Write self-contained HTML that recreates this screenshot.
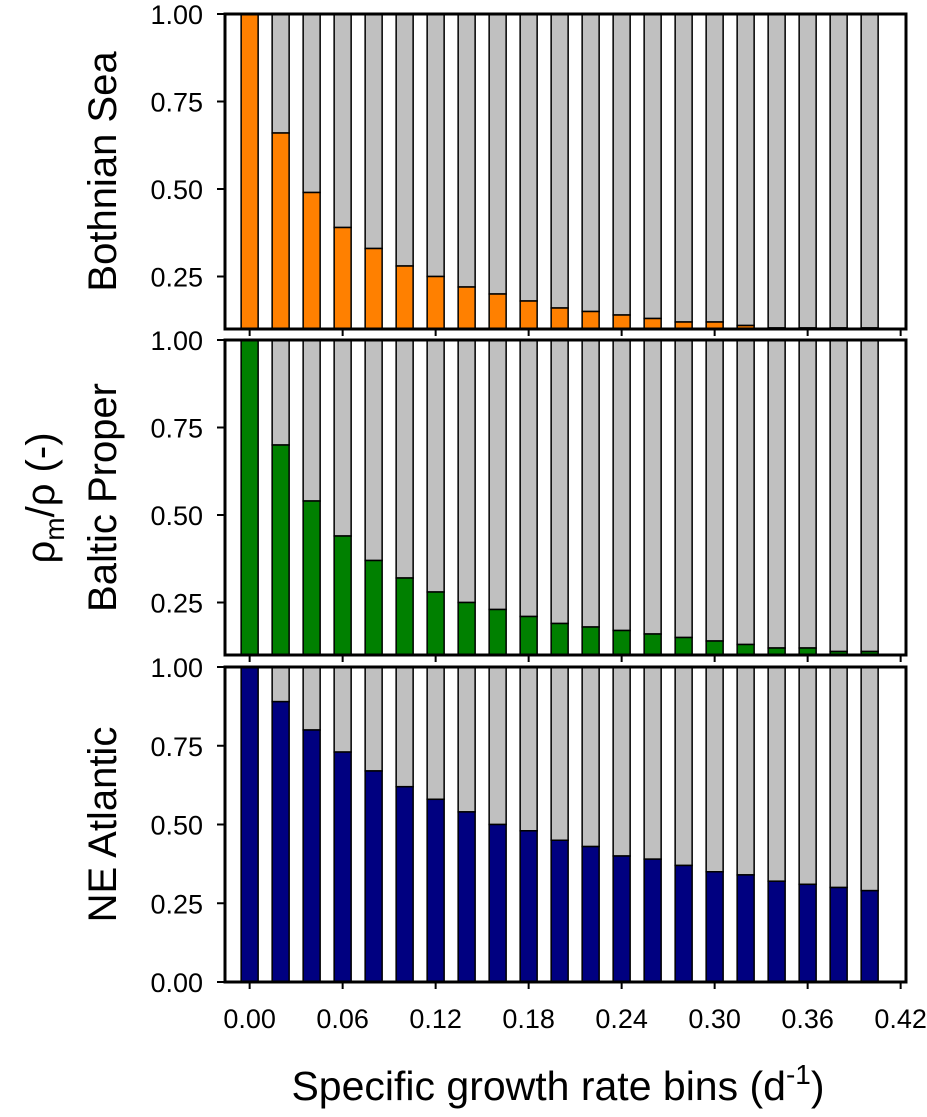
<!DOCTYPE html>
<html><head><meta charset="utf-8"><style>
body{margin:0;background:#fff}
svg text{font-family:"Liberation Sans",Arial,sans-serif}
</style></head><body>
<svg width="927" height="1112" viewBox="0 0 927 1112">
<g id="plots"></g>
<text x="0" y="0" transform="translate(54,498) rotate(-90)" text-anchor="middle" font-size="40">ρ<tspan font-size="28" dy="10">m</tspan><tspan dy="-10">/ρ (-)</tspan></text>
<text x="558" y="1100" text-anchor="middle" font-size="41">Specific growth rate bins (d<tspan font-size="28" dy="-16">-1</tspan><tspan dy="16">)</tspan></text>
</svg>
<script>
const bins = [0,0.02,0.04,0.06,0.08,0.10,0.12,0.14,0.16,0.18,0.20,0.22,0.24,0.26,0.28,0.30,0.32,0.34,0.36,0.38,0.40];
const bothnian = [1.00,0.66,0.49,0.39,0.33,0.28,0.25,0.22,0.20,0.18,0.16,0.15,0.14,0.13,0.12,0.12,0.11,0.103,0.103,0.103,0.103];
const baltic = [1.00,0.70,0.54,0.44,0.37,0.32,0.28,0.25,0.23,0.21,0.19,0.18,0.17,0.16,0.15,0.14,0.13,0.12,0.12,0.11,0.11];
const atlantic = [1.00,0.89,0.80,0.73,0.67,0.62,0.58,0.54,0.50,0.48,0.45,0.43,0.40,0.39,0.37,0.35,0.34,0.32,0.31,0.30,0.29];
const xTicks = [0,0.06,0.12,0.18,0.24,0.30,0.36,0.42];
const yTicks = [0,0.25,0.5,0.75,1.0];
const NS='http://www.w3.org/2000/svg';
const g=document.getElementById('plots');
const L=225,R=906;
const x=v=>L+(v+0.0159)*1550;
function el(t,a,p){const e=document.createElementNS(NS,t);for(const k in a)e.setAttribute(k,a[k]);(p||g).appendChild(e);return e;}
const panels=[
 {name:'bothnian-sea',title:'Bothnian Sea',vals:bothnian,color:'#ff8000',top:14,bot:329,ymin:0.1},
 {name:'baltic-proper',title:'Baltic Proper',vals:baltic,color:'#008000',top:340,bot:655,ymin:0.1},
 {name:'ne-atlantic',title:'NE Atlantic',vals:atlantic,color:'#000080',top:667,bot:982,ymin:0}
];
panels.forEach((p,pi)=>{
 const grp=el('g',{});
 
 
 const y=v=>p.bot-(v-p.ymin)/(1-p.ymin)*(p.bot-p.top);
 const cp=el('clipPath',{id:'c'+pi},grp);
 el('rect',{x:L,y:p.top,width:R-L,height:p.bot-p.top},cp);
 const bars=el('g',{'clip-path':'url(#c'+pi+')'},grp);
 bins.forEach((b,i)=>{
  const bx=x(b)-8.5;
  const gr=el('rect',{x:bx,y:y(1),width:17,height:y(p.vals[i])-y(1),fill:'#c0c0c0',stroke:'#000','stroke-width':1.5},bars);
  
  
  const cb=el('rect',{x:bx,y:y(p.vals[i]),width:17,height:y(p.ymin)-y(p.vals[i])+2,fill:p.color,stroke:'#000','stroke-width':1.5},bars);
  
  
 });
 el('rect',{x:L,y:p.top,width:R-L,height:p.bot-p.top,fill:'none',stroke:'#000','stroke-width':3},grp);
 yTicks.filter(t=>t>=p.ymin+0.01||(p.ymin===0)).forEach(t=>{
  el('line',{x1:L-8,x2:L,y1:y(t),y2:y(t),stroke:'#000','stroke-width':2},grp);
  const tx=el('text',{x:L-22,y:y(t)+10,'text-anchor':'end','font-size':27},grp);
  tx.textContent=t.toFixed(2);
  
  
 });
 xTicks.forEach(t=>{
  el('line',{x1:x(t),x2:x(t),y1:p.bot,y2:p.bot+7,stroke:'#000','stroke-width':2},grp);
  if(pi===2){
   const tx=el('text',{x:x(t),y:p.bot+46,'text-anchor':'middle','font-size':27},grp);
   tx.textContent=t.toFixed(2);
   
   
  }
 });
 const tt=el('text',{transform:`translate(116,${(p.top+p.bot)/2}) rotate(-90)`,'text-anchor':'middle','font-size':40},grp);
 tt.textContent=p.title;
 
 
});
</script>
</body></html>
